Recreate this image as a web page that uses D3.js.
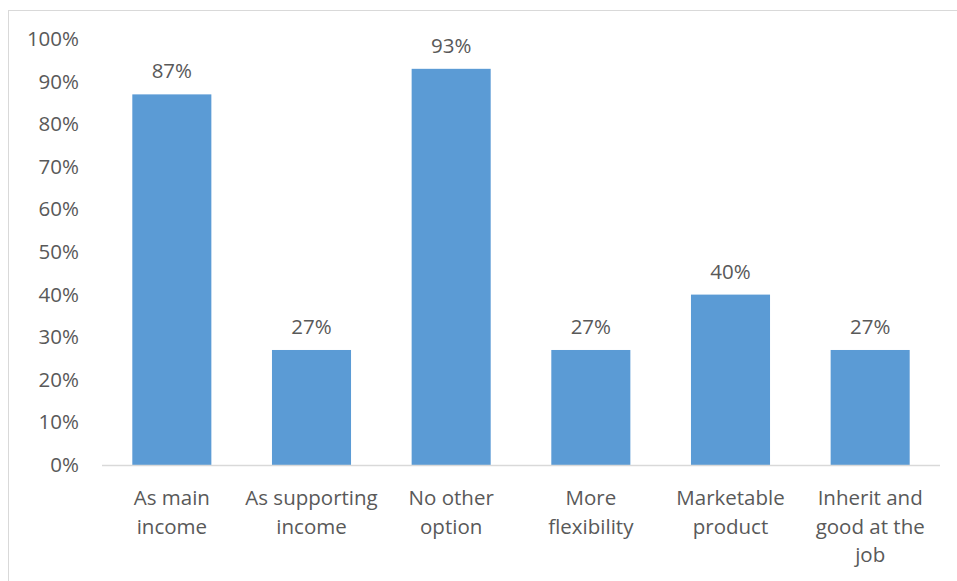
<!DOCTYPE html>
<html>
<head>
<meta charset="utf-8">
<script src="https://cdn.jsdelivr.net/npm/d3@7"></script>
<style>
  body { margin: 0; background: #fff; overflow: hidden; }
  svg text { font-family: "Open Sans", sans-serif; fill: #595959; }
</style>
</head>
<body>
<div id="chart"></div>
<script>
const categories = [
  ["As main", "income"],
  ["As supporting", "income"],
  ["No other", "option"],
  ["More", "flexibility"],
  ["Marketable", "product"],
  ["Inherit and", "good at the", "job"]
];
const values = [0.87, 0.27, 0.93, 0.27, 0.40, 0.27];
const yTicks = [0, 0.1, 0.2, 0.3, 0.4, 0.5, 0.6, 0.7, 0.8, 0.9, 1.0];

const width = 957, height = 581;
const margin = { top: 39, right: 17, bottom: 116, left: 102 };
const innerW = width - margin.left - margin.right;
const innerH = height - margin.top - margin.bottom;
const fontSize = 20.5;

const svg = d3.select("#chart").append("svg")
  .attr("width", width)
  .attr("height", height);

// chart frame (right and bottom edges fall outside the picture)
svg.append("rect")
  .attr("x", 8.5).attr("y", 10.5)
  .attr("width", 1000).attr("height", 700)
  .attr("fill", "none")
  .attr("stroke", "#d9d9d9");

const g = svg.append("g").attr("transform", `translate(${margin.left},${margin.top})`);

const x = d3.scaleBand()
  .domain(d3.range(categories.length))
  .range([0, innerW])
  .paddingInner(0.434)
  .paddingOuter(0.217);

const y = d3.scaleLinear().domain([0, 1]).range([innerH, 0]);

// y axis labels
const yAxis = g.append("g")
  .call(d3.axisLeft(y).tickValues(yTicks).tickFormat(d3.format(".0%")).tickSize(0).tickPadding(23));
yAxis.select(".domain").remove();
yAxis.selectAll("text").attr("font-size", fontSize).style("font-family", "Open Sans").attr("fill", "#595959");

// bars
g.selectAll(".bar").data(values).join("rect")
  .attr("class", "bar")
  .attr("x", (d, i) => x(i))
  .attr("y", d => y(d))
  .attr("width", x.bandwidth())
  .attr("height", d => innerH - y(d))
  .attr("fill", "#5b9bd5");

// value labels
g.selectAll(".val").data(values).join("text")
  .attr("class", "val")
  .attr("x", (d, i) => x(i) + x.bandwidth() / 2)
  .attr("y", d => y(d) - 16)
  .attr("text-anchor", "middle")
  .attr("font-size", fontSize)
  .text(d => d3.format(".0%")(d));

// x axis line
g.append("line")
  .attr("x1", 0).attr("x2", innerW)
  .attr("y1", innerH + 0.5).attr("y2", innerH + 0.5)
  .attr("stroke", "#d9d9d9")
  .attr("stroke-width", 1.5);

// category labels
const cat = g.selectAll(".cat").data(categories).join("text")
  .attr("class", "cat")
  .attr("text-anchor", "middle")
  .attr("font-size", fontSize)
  .attr("transform", (d, i) => `translate(${x(i) + x.bandwidth() / 2},${innerH + 40})`);
cat.selectAll("tspan").data(d => d).join("tspan")
  .attr("x", 0)
  .attr("dy", (d, i) => i === 0 ? 0 : 28.5)
  .text(d => d);
</script>
</body>
</html>
